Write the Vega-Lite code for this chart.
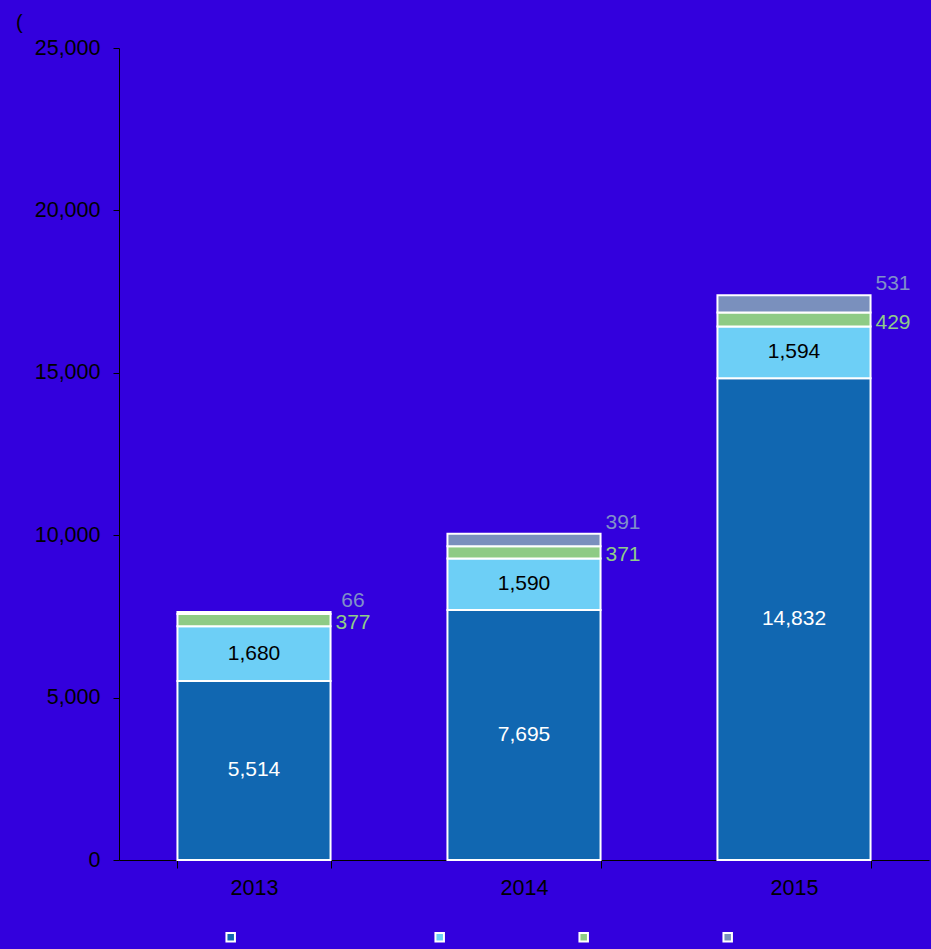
{
  "$schema": "https://vega.github.io/schema/vega-lite/v6.json",
  "width": 810,
  "height": 812,
  "autosize": "none",
  "padding": {"left": 119, "top": 48, "right": 2, "bottom": 89},
  "background": "#3300dd",
  "config": {
    "view": {"stroke": null},
    "font": "Liberation Sans",
    "axis": {"domainColor": "#000000", "tickColor": "#000000", "labelColor": "#000000", "labelFontSize": 21.5, "labelFont": "Liberation Sans", "grid": false, "title": null, "domainWidth": 1, "tickWidth": 1}
  },
  "title": {"text": "(", "anchor": "start", "frame": "group", "dx": -103, "dy": 12, "offset": 0, "baseline": "alphabetic", "fontSize": 20, "fontWeight": "normal", "font": "Liberation Sans", "color": "#000000"},
  "data": {
    "values": [
      {"year": "2013", "series": "Series 1", "k": 1, "value": 5514},
      {"year": "2013", "series": "Series 2", "k": 2, "value": 1680},
      {"year": "2013", "series": "Series 3", "k": 3, "value": 377},
      {"year": "2013", "series": "Series 4", "k": 4, "value": 66},
      {"year": "2014", "series": "Series 1", "k": 1, "value": 7695},
      {"year": "2014", "series": "Series 2", "k": 2, "value": 1590},
      {"year": "2014", "series": "Series 3", "k": 3, "value": 371},
      {"year": "2014", "series": "Series 4", "k": 4, "value": 391},
      {"year": "2015", "series": "Series 1", "k": 1, "value": 14832},
      {"year": "2015", "series": "Series 2", "k": 2, "value": 1594},
      {"year": "2015", "series": "Series 3", "k": 3, "value": 429},
      {"year": "2015", "series": "Series 4", "k": 4, "value": 531}
    ]
  },
  "encoding": {
    "x": {
      "field": "year", "type": "ordinal",
      "scale": {"paddingInner": 0.433, "paddingOuter": 0.2165},
      "axis": {"labelAngle": 0, "tickBand": "extent", "tickSize": 8, "labelPadding": 9}
    }
  },
  "layer": [
    {
      "mark": {"type": "bar", "stroke": "#ffffff", "strokeWidth": 2},
      "encoding": {
        "y": {"field": "value", "type": "quantitative", "stack": "zero",
          "scale": {"domain": [0, 25000], "nice": false},
          "axis": {"values": [0, 5000, 10000, 15000, 20000, 25000], "format": ",d", "tickSize": 6, "labelPadding": 13}},
        "color": {"field": "series", "type": "nominal",
          "scale": {"domain": ["Series 1", "Series 2", "Series 3", "Series 4"], "range": ["#1167b1", "#6dcff6", "#8ecb85", "#7a90bd"]},
          "legend": {"orient": "none", "direction": "horizontal", "legendX": 102, "legendY": 879, "title": null,
            "symbolType": "square", "symbolSize": 72, "symbolStrokeColor": "#ffffff", "symbolStrokeWidth": 2, "symbolOpacity": 1,
            "labelOffset": 0, "labelFontSize": 19.4, "columnPadding": 124, "labelColor": "#3300dd", "labelOpacity": 0,
            "labelExpr": "datum.index == 0 ? 'MMMM' : ''"}},
        "order": {"field": "k", "type": "quantitative", "sort": "ascending"}
      }
    },
    {
      "mark": {"type": "text", "fontSize": 21, "color": "#ffffff"},
      "encoding": {
        "y": {"field": "value", "type": "quantitative", "stack": "zero", "bandPosition": 0.5},
        "detail": {"field": "series"},
        "order": {"field": "k", "type": "quantitative", "sort": "ascending"},
        "text": {"condition": {"test": "datum.k == 1", "field": "value", "type": "quantitative", "format": ",d"}, "value": ""}
      }
    },
    {
      "mark": {"type": "text", "fontSize": 21, "color": "#000000"},
      "encoding": {
        "y": {"field": "value", "type": "quantitative", "stack": "zero", "bandPosition": 0.5},
        "detail": {"field": "series"},
        "order": {"field": "k", "type": "quantitative", "sort": "ascending"},
        "text": {"condition": {"test": "datum.k == 2", "field": "value", "type": "quantitative", "format": ",d"}, "value": ""}
      }
    },
    {
      "mark": {"type": "text", "fontSize": 21, "color": "#8fcc88", "dx": 99, "dy": 3},
      "encoding": {
        "y": {"field": "value", "type": "quantitative", "stack": "zero", "bandPosition": 0.5},
        "detail": {"field": "series"},
        "order": {"field": "k", "type": "quantitative", "sort": "ascending"},
        "text": {"condition": {"test": "datum.k == 3", "field": "value", "type": "quantitative", "format": ",d"}, "value": ""}
      }
    },
    {
      "mark": {"type": "text", "fontSize": 21, "color": "#8090c8", "dx": 99, "dy": -11},
      "encoding": {
        "y": {"field": "value", "type": "quantitative", "stack": "zero", "bandPosition": 1},
        "detail": {"field": "series"},
        "order": {"field": "k", "type": "quantitative", "sort": "ascending"},
        "text": {"condition": {"test": "datum.k == 4", "field": "value", "type": "quantitative", "format": ",d"}, "value": ""}
      }
    }
  ]
}
